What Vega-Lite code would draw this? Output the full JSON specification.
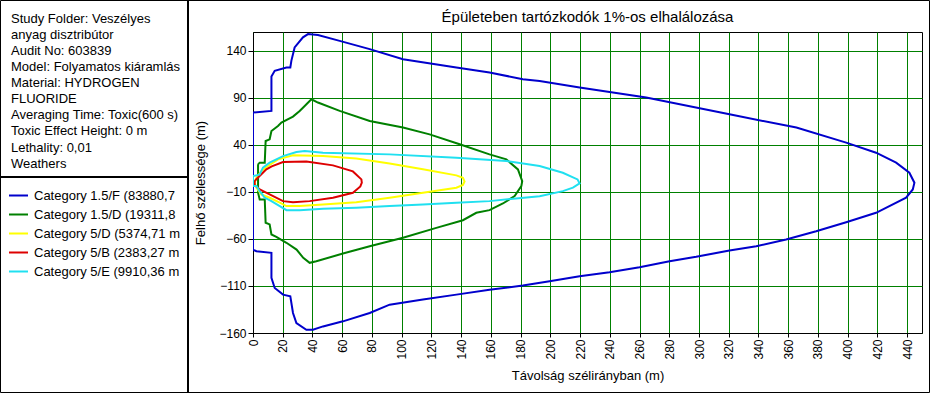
{
  "$schema": "https://vega.github.io/schema/vega-lite/v6.json",
  "width": 669,
  "height": 301,
  "autosize": "none",
  "padding": {"left": 253, "top": 32, "right": 8, "bottom": 60},
  "background": "white",
  "title": {"text": "Épületeben tartózkodók 1%-os elhalálozása", "frame": "group", "anchor": "middle", "fontSize": 15, "fontWeight": "normal", "font": "Liberation Sans", "color": "black", "offset": -19, "dy": 19, "baseline": "alphabetic"},
  "config": {
    "view": {"stroke": "black", "strokeWidth": 1},
    "font": "Liberation Sans",
    "axis": {"labelFont": "Liberation Sans", "labelFontSize": 12, "labelColor": "black", "titleFont": "Liberation Sans", "titleFontSize": 13, "titleFontWeight": "normal", "titleColor": "black", "domainColor": "black", "tickColor": "black", "gridColor": "#008000", "gridOpacity": 1, "tickSize": 5, "labelPadding": 2, "labelFlush": false, "labelOverlap": false}
  },
  "resolve": {"scale": {"x": "independent", "y": "independent"}},
  "layer": [
    {
      "data": {"values": [
        {"s":"Category 1.5/F (83880,7","i":0,"x":0,"y":74.4},{"s":"Category 1.5/F (83880,7","i":1,"x":12.4,"y":76.1},{"s":"Category 1.5/F (83880,7","i":2,"x":12.4,"y":112.7},{"s":"Category 1.5/F (83880,7","i":3,"x":14.6,"y":118.7},{"s":"Category 1.5/F (83880,7","i":4,"x":22.5,"y":122.3},{"s":"Category 1.5/F (83880,7","i":5,"x":25.1,"y":122.3},{"s":"Category 1.5/F (83880,7","i":6,"x":25.8,"y":129.3},{"s":"Category 1.5/F (83880,7","i":7,"x":28.0,"y":143.6},{"s":"Category 1.5/F (83880,7","i":8,"x":33.6,"y":154.3},{"s":"Category 1.5/F (83880,7","i":9,"x":37.0,"y":157.8},{"s":"Category 1.5/F (83880,7","i":10,"x":43.7,"y":156.7},{"s":"Category 1.5/F (83880,7","i":11,"x":58.3,"y":150.6},{"s":"Category 1.5/F (83880,7","i":12,"x":78.5,"y":141.8},{"s":"Category 1.5/F (83880,7","i":13,"x":100.9,"y":131.1},{"s":"Category 1.5/F (83880,7","i":14,"x":136.8,"y":122.3},{"s":"Category 1.5/F (83880,7","i":15,"x":159.1,"y":117.0},{"s":"Category 1.5/F (83880,7","i":16,"x":181.5,"y":109.8},{"s":"Category 1.5/F (83880,7","i":17,"x":192.8,"y":108.0},{"s":"Category 1.5/F (83880,7","i":18,"x":219.7,"y":101.0},{"s":"Category 1.5/F (83880,7","i":19,"x":264.5,"y":90.3},{"s":"Category 1.5/F (83880,7","i":20,"x":320.5,"y":72.5},{"s":"Category 1.5/F (83880,7","i":21,"x":365.5,"y":58.4},{"s":"Category 1.5/F (83880,7","i":22,"x":399.0,"y":42.4},{"s":"Category 1.5/F (83880,7","i":23,"x":419.1,"y":31.7},{"s":"Category 1.5/F (83880,7","i":24,"x":432.6,"y":21.1},{"s":"Category 1.5/F (83880,7","i":25,"x":441.5,"y":10.4},{"s":"Category 1.5/F (83880,7","i":26,"x":444.9,"y":-0.2},{"s":"Category 1.5/F (83880,7","i":27,"x":443.8,"y":-7.4},{"s":"Category 1.5/F (83880,7","i":28,"x":439.3,"y":-16.2},{"s":"Category 1.5/F (83880,7","i":29,"x":419.1,"y":-32.2},{"s":"Category 1.5/F (83880,7","i":30,"x":399.0,"y":-42.2},{"s":"Category 1.5/F (83880,7","i":31,"x":378.8,"y":-51.8},{"s":"Category 1.5/F (83880,7","i":32,"x":358.6,"y":-60.6},{"s":"Category 1.5/F (83880,7","i":33,"x":338.5,"y":-67.8},{"s":"Category 1.5/F (83880,7","i":34,"x":320.5,"y":-72.3},{"s":"Category 1.5/F (83880,7","i":35,"x":298.1,"y":-79.0},{"s":"Category 1.5/F (83880,7","i":36,"x":280.2,"y":-83.7},{"s":"Category 1.5/F (83880,7","i":37,"x":260.0,"y":-90.1},{"s":"Category 1.5/F (83880,7","i":38,"x":239.8,"y":-95.4},{"s":"Category 1.5/F (83880,7","i":39,"x":219.7,"y":-99.7},{"s":"Category 1.5/F (83880,7","i":40,"x":199.5,"y":-105.0},{"s":"Category 1.5/F (83880,7","i":41,"x":181.5,"y":-109.6},{"s":"Category 1.5/F (83880,7","i":42,"x":159.1,"y":-113.9},{"s":"Category 1.5/F (83880,7","i":43,"x":136.8,"y":-119.2},{"s":"Category 1.5/F (83880,7","i":44,"x":114.3,"y":-124.5},{"s":"Category 1.5/F (83880,7","i":45,"x":91.9,"y":-129.9},{"s":"Category 1.5/F (83880,7","i":46,"x":78.5,"y":-138.7},{"s":"Category 1.5/F (83880,7","i":47,"x":60.5,"y":-147.6},{"s":"Category 1.5/F (83880,7","i":48,"x":47.1,"y":-153.0},{"s":"Category 1.5/F (83880,7","i":49,"x":40.3,"y":-156.5},{"s":"Category 1.5/F (83880,7","i":50,"x":35.9,"y":-156.5},{"s":"Category 1.5/F (83880,7","i":51,"x":29.2,"y":-149.4},{"s":"Category 1.5/F (83880,7","i":52,"x":26.9,"y":-138.7},{"s":"Category 1.5/F (83880,7","i":53,"x":25.1,"y":-121.0},{"s":"Category 1.5/F (83880,7","i":54,"x":20.2,"y":-119.2},{"s":"Category 1.5/F (83880,7","i":55,"x":14.6,"y":-112.1},{"s":"Category 1.5/F (83880,7","i":56,"x":12.4,"y":-101.4},{"s":"Category 1.5/F (83880,7","i":57,"x":12.4,"y":-74.8},{"s":"Category 1.5/F (83880,7","i":58,"x":2.3,"y":-73.1},{"s":"Category 1.5/F (83880,7","i":59,"x":0,"y":-71.3},{"s":"Category 1.5/F (83880,7","i":60,"x":0,"y":74.4},
        {"s":"Category 1.5/D (19311,8","i":0,"x":3.4,"y":19.3},{"s":"Category 1.5/D (19311,8","i":1,"x":4.5,"y":21.1},{"s":"Category 1.5/D (19311,8","i":2,"x":7.9,"y":21.1},{"s":"Category 1.5/D (19311,8","i":3,"x":8.5,"y":44.1},{"s":"Category 1.5/D (19311,8","i":4,"x":11.2,"y":45.9},{"s":"Category 1.5/D (19311,8","i":5,"x":12.4,"y":54.8},{"s":"Category 1.5/D (19311,8","i":6,"x":16.8,"y":60.1},{"s":"Category 1.5/D (19311,8","i":7,"x":19.1,"y":63.7},{"s":"Category 1.5/D (19311,8","i":8,"x":26.9,"y":70.1},{"s":"Category 1.5/D (19311,8","i":9,"x":31.4,"y":76.1},{"s":"Category 1.5/D (19311,8","i":10,"x":39.3,"y":88.5},{"s":"Category 1.5/D (19311,8","i":11,"x":43.7,"y":85.0},{"s":"Category 1.5/D (19311,8","i":12,"x":58.3,"y":76.1},{"s":"Category 1.5/D (19311,8","i":13,"x":78.5,"y":65.4},{"s":"Category 1.5/D (19311,8","i":14,"x":100.9,"y":58.4},{"s":"Category 1.5/D (19311,8","i":15,"x":118.8,"y":51.2},{"s":"Category 1.5/D (19311,8","i":16,"x":139.0,"y":40.6},{"s":"Category 1.5/D (19311,8","i":17,"x":159.1,"y":29.9},{"s":"Category 1.5/D (19311,8","i":18,"x":170.4,"y":24.6},{"s":"Category 1.5/D (19311,8","i":19,"x":178.2,"y":13.9},{"s":"Category 1.5/D (19311,8","i":20,"x":181.1,"y":1.5},{"s":"Category 1.5/D (19311,8","i":21,"x":180.5,"y":-3.8},{"s":"Category 1.5/D (19311,8","i":22,"x":176.0,"y":-14.5},{"s":"Category 1.5/D (19311,8","i":23,"x":168.1,"y":-22.3},{"s":"Category 1.5/D (19311,8","i":24,"x":159.1,"y":-29.4},{"s":"Category 1.5/D (19311,8","i":25,"x":150.2,"y":-32.2},{"s":"Category 1.5/D (19311,8","i":26,"x":141.2,"y":-40.1},{"s":"Category 1.5/D (19311,8","i":27,"x":123.3,"y":-48.2},{"s":"Category 1.5/D (19311,8","i":28,"x":100.9,"y":-58.8},{"s":"Category 1.5/D (19311,8","i":29,"x":78.5,"y":-67.8},{"s":"Category 1.5/D (19311,8","i":30,"x":60.5,"y":-75.5},{"s":"Category 1.5/D (19311,8","i":31,"x":42.6,"y":-83.7},{"s":"Category 1.5/D (19311,8","i":32,"x":38.1,"y":-85.4},{"s":"Category 1.5/D (19311,8","i":33,"x":33.8,"y":-80.1},{"s":"Category 1.5/D (19311,8","i":34,"x":29.3,"y":-71.3},{"s":"Category 1.5/D (19311,8","i":35,"x":22.5,"y":-64.1},{"s":"Category 1.5/D (19311,8","i":36,"x":15.7,"y":-57.7},{"s":"Category 1.5/D (19311,8","i":37,"x":12.4,"y":-55.3},{"s":"Category 1.5/D (19311,8","i":38,"x":11.2,"y":-44.6},{"s":"Category 1.5/D (19311,8","i":39,"x":8.5,"y":-42.8},{"s":"Category 1.5/D (19311,8","i":40,"x":7.9,"y":-18.0},{"s":"Category 1.5/D (19311,8","i":41,"x":4.5,"y":-18.0},{"s":"Category 1.5/D (19311,8","i":42,"x":3.4,"y":-10.9},{"s":"Category 1.5/D (19311,8","i":43,"x":3.4,"y":19.3},
        {"s":"Category 5/D (5374,71 m","i":0,"x":1.1,"y":-0.2},{"s":"Category 5/D (5374,71 m","i":1,"x":2.3,"y":5.1},{"s":"Category 5/D (5374,71 m","i":2,"x":5.6,"y":12.1},{"s":"Category 5/D (5374,71 m","i":3,"x":10.1,"y":17.5},{"s":"Category 5/D (5374,71 m","i":4,"x":16.8,"y":24.6},{"s":"Category 5/D (5374,71 m","i":5,"x":26.9,"y":28.9},{"s":"Category 5/D (5374,71 m","i":6,"x":47.1,"y":28.1},{"s":"Category 5/D (5374,71 m","i":7,"x":69.5,"y":25.4},{"s":"Category 5/D (5374,71 m","i":8,"x":91.9,"y":20.3},{"s":"Category 5/D (5374,71 m","i":9,"x":114.3,"y":14.0},{"s":"Category 5/D (5374,71 m","i":10,"x":136.8,"y":7.6},{"s":"Category 5/D (5374,71 m","i":11,"x":141.2,"y":5.1},{"s":"Category 5/D (5374,71 m","i":12,"x":142.3,"y":1.2},{"s":"Category 5/D (5374,71 m","i":13,"x":141.2,"y":-2.6},{"s":"Category 5/D (5374,71 m","i":14,"x":136.8,"y":-5.5},{"s":"Category 5/D (5374,71 m","i":15,"x":114.3,"y":-10.9},{"s":"Category 5/D (5374,71 m","i":16,"x":91.9,"y":-16.2},{"s":"Category 5/D (5374,71 m","i":17,"x":69.5,"y":-20.9},{"s":"Category 5/D (5374,71 m","i":18,"x":47.1,"y":-23.3},{"s":"Category 5/D (5374,71 m","i":19,"x":31.4,"y":-25.1},{"s":"Category 5/D (5374,71 m","i":20,"x":22.5,"y":-25.1},{"s":"Category 5/D (5374,71 m","i":21,"x":18.0,"y":-21.5},{"s":"Category 5/D (5374,71 m","i":22,"x":11.2,"y":-16.2},{"s":"Category 5/D (5374,71 m","i":23,"x":5.6,"y":-12.7},{"s":"Category 5/D (5374,71 m","i":24,"x":2.3,"y":-5.5},{"s":"Category 5/D (5374,71 m","i":25,"x":1.1,"y":-0.2},
        {"s":"Category 5/B (2383,27 m","i":0,"x":1.1,"y":1.5},{"s":"Category 5/B (2383,27 m","i":1,"x":3.4,"y":5.4},{"s":"Category 5/B (2383,27 m","i":2,"x":9.0,"y":14.0},{"s":"Category 5/B (2383,27 m","i":3,"x":12.6,"y":17.2},{"s":"Category 5/B (2383,27 m","i":4,"x":20.2,"y":21.7},{"s":"Category 5/B (2383,27 m","i":5,"x":35.9,"y":22.2},{"s":"Category 5/B (2383,27 m","i":6,"x":53.8,"y":18.2},{"s":"Category 5/B (2383,27 m","i":7,"x":67.2,"y":11.8},{"s":"Category 5/B (2383,27 m","i":8,"x":72.9,"y":3.3},{"s":"Category 5/B (2383,27 m","i":9,"x":73.2,"y":-0.2},{"s":"Category 5/B (2383,27 m","i":10,"x":72.2,"y":-4.2},{"s":"Category 5/B (2383,27 m","i":11,"x":67.2,"y":-10.9},{"s":"Category 5/B (2383,27 m","i":12,"x":53.8,"y":-16.2},{"s":"Category 5/B (2383,27 m","i":13,"x":38.1,"y":-19.8},{"s":"Category 5/B (2383,27 m","i":14,"x":26.9,"y":-20.9},{"s":"Category 5/B (2383,27 m","i":15,"x":20.2,"y":-19.8},{"s":"Category 5/B (2383,27 m","i":16,"x":11.2,"y":-12.7},{"s":"Category 5/B (2383,27 m","i":17,"x":4.5,"y":-7.4},{"s":"Category 5/B (2383,27 m","i":18,"x":1.1,"y":-2.6},{"s":"Category 5/B (2383,27 m","i":19,"x":1.1,"y":1.5},
        {"s":"Category 5/E (9910,36 m","i":0,"x":0,"y":6.8},{"s":"Category 5/E (9910,36 m","i":1,"x":2.5,"y":7.6},{"s":"Category 5/E (9910,36 m","i":2,"x":4.5,"y":8.6},{"s":"Category 5/E (9910,36 m","i":3,"x":6.7,"y":15.8},{"s":"Category 5/E (9910,36 m","i":4,"x":11.2,"y":21.1},{"s":"Category 5/E (9910,36 m","i":5,"x":20.2,"y":28.1},{"s":"Category 5/E (9910,36 m","i":6,"x":29.2,"y":32.4},{"s":"Category 5/E (9910,36 m","i":7,"x":34.8,"y":33.5},{"s":"Category 5/E (9910,36 m","i":8,"x":47.1,"y":31.7},{"s":"Category 5/E (9910,36 m","i":9,"x":91.9,"y":29.9},{"s":"Category 5/E (9910,36 m","i":10,"x":136.8,"y":26.4},{"s":"Category 5/E (9910,36 m","i":11,"x":170.4,"y":22.8},{"s":"Category 5/E (9910,36 m","i":12,"x":192.8,"y":17.5},{"s":"Category 5/E (9910,36 m","i":13,"x":208.4,"y":10.4},{"s":"Category 5/E (9910,36 m","i":14,"x":218.3,"y":3.3},{"s":"Category 5/E (9910,36 m","i":15,"x":219.7,"y":-1.0},{"s":"Category 5/E (9910,36 m","i":16,"x":215.2,"y":-5.5},{"s":"Category 5/E (9910,36 m","i":17,"x":208.4,"y":-9.2},{"s":"Category 5/E (9910,36 m","i":18,"x":192.8,"y":-14.5},{"s":"Category 5/E (9910,36 m","i":19,"x":159.1,"y":-19.8},{"s":"Category 5/E (9910,36 m","i":20,"x":136.8,"y":-21.5},{"s":"Category 5/E (9910,36 m","i":21,"x":114.3,"y":-23.3},{"s":"Category 5/E (9910,36 m","i":22,"x":91.9,"y":-25.1},{"s":"Category 5/E (9910,36 m","i":23,"x":69.5,"y":-26.8},{"s":"Category 5/E (9910,36 m","i":24,"x":47.1,"y":-27.9},{"s":"Category 5/E (9910,36 m","i":25,"x":31.4,"y":-29.4},{"s":"Category 5/E (9910,36 m","i":26,"x":22.5,"y":-29.4},{"s":"Category 5/E (9910,36 m","i":27,"x":18.0,"y":-25.1},{"s":"Category 5/E (9910,36 m","i":28,"x":12.4,"y":-19.8},{"s":"Category 5/E (9910,36 m","i":29,"x":7.9,"y":-16.2},{"s":"Category 5/E (9910,36 m","i":30,"x":4.5,"y":-9.2},{"s":"Category 5/E (9910,36 m","i":31,"x":2.3,"y":-3.8},{"s":"Category 5/E (9910,36 m","i":32,"x":0,"y":-3.8},{"s":"Category 5/E (9910,36 m","i":33,"x":0,"y":6.8}
      ]},
      "mark": {"type": "line", "strokeWidth": 2, "clip": true},
      "encoding": {
        "x": {"field": "x", "type": "quantitative", "scale": {"domain": [0, 450], "nice": false, "zero": false},
              "axis": {"values": [0,20,40,60,80,100,120,140,160,180,200,220,240,260,280,300,320,340,360,380,400,420,440], "labelAngle": -90, "tickSize": 4, "title": "Távolság szélirányban (m)", "titlePadding": 10, "grid": true}},
        "y": {"field": "y", "type": "quantitative", "scale": {"domain": [-160, 160], "nice": false, "zero": false},
              "axis": {"values": [-160,-110,-60,-10,40,90,140], "title": "Felhő szélessége (m)", "titlePadding": 11, "grid": true}},
        "color": {"field": "s", "type": "nominal",
                  "scale": {"domain": ["Category 1.5/F (83880,7", "Category 1.5/D (19311,8", "Category 5/D (5374,71 m", "Category 5/B (2383,27 m", "Category 5/E (9910,36 m"],
                            "range": ["#0000CC", "#008000", "#FFFF00", "#DD0000", "#20E0F0"]},
                  "legend": {"orient": "none", "legendX": -245, "legendY": 154, "title": null, "symbolType": "stroke", "symbolStrokeWidth": 2, "symbolSize": 361, "labelFontSize": 13, "labelFont": "Liberation Sans", "labelColor": "black", "padding": 0, "rowPadding": 0, "clipHeight": 19, "labelLimit": 300, "labelOffset": 5}},
        "order": {"field": "i", "type": "quantitative"}
      }
    },
    {
      "data": {"values": [
        {"line": 1, "text": "Study Folder: Veszélyes"},
        {"line": 2, "text": "anyag disztribútor"},
        {"line": 3, "text": "Audit No: 603839"},
        {"line": 4, "text": "Model: Folyamatos kiáramlás"},
        {"line": 5, "text": "Material: HYDROGEN"},
        {"line": 6, "text": "FLUORIDE"},
        {"line": 7, "text": "Averaging Time: Toxic(600 s)"},
        {"line": 8, "text": "Toxic Effect Height: 0 m"},
        {"line": 9, "text": "Lethality: 0,01"},
        {"line": 10, "text": "Weathers"}
      ]},
      "mark": {"type": "text", "align": "left", "baseline": "middle", "fontSize": 13, "font": "Liberation Sans", "color": "black", "clip": false},
      "encoding": {
        "x": {"datum": 11, "type": "quantitative", "scale": {"domain": [253, 922], "nice": false, "zero": false}, "axis": null},
        "y": {"field": "line", "type": "quantitative", "scale": {"domain": [1.809, 20.54], "reverse": true, "nice": false, "zero": false}, "axis": null},
        "text": {"field": "text"}
      }
    },
    {
      "data": {"values": [{}]},
      "layer": [
        {
          "mark": {"type": "rect", "fillOpacity": 0, "stroke": "black", "strokeWidth": 1, "clip": false},
          "encoding": {
            "x": {"datum": 0.5, "type": "quantitative", "scale": {"domain": [253, 922], "nice": false, "zero": false}, "axis": null},
            "x2": {"datum": 929.5},
            "y": {"datum": 0.5, "type": "quantitative", "scale": {"domain": [32, 333], "reverse": true, "nice": false, "zero": false}, "axis": null},
            "y2": {"datum": 392.5}
          }
        },
        {
          "mark": {"type": "rule", "stroke": "black", "strokeWidth": 2, "clip": false},
          "encoding": {
            "x": {"datum": 188, "type": "quantitative"},
            "y": {"datum": 0, "type": "quantitative"},
            "y2": {"datum": 392}
          }
        },
        {
          "mark": {"type": "rule", "stroke": "black", "strokeWidth": 2, "clip": false},
          "encoding": {
            "x": {"datum": 0, "type": "quantitative"},
            "x2": {"datum": 188},
            "y": {"datum": 177, "type": "quantitative"}
          }
        }
      ]
    }
  ]
}
